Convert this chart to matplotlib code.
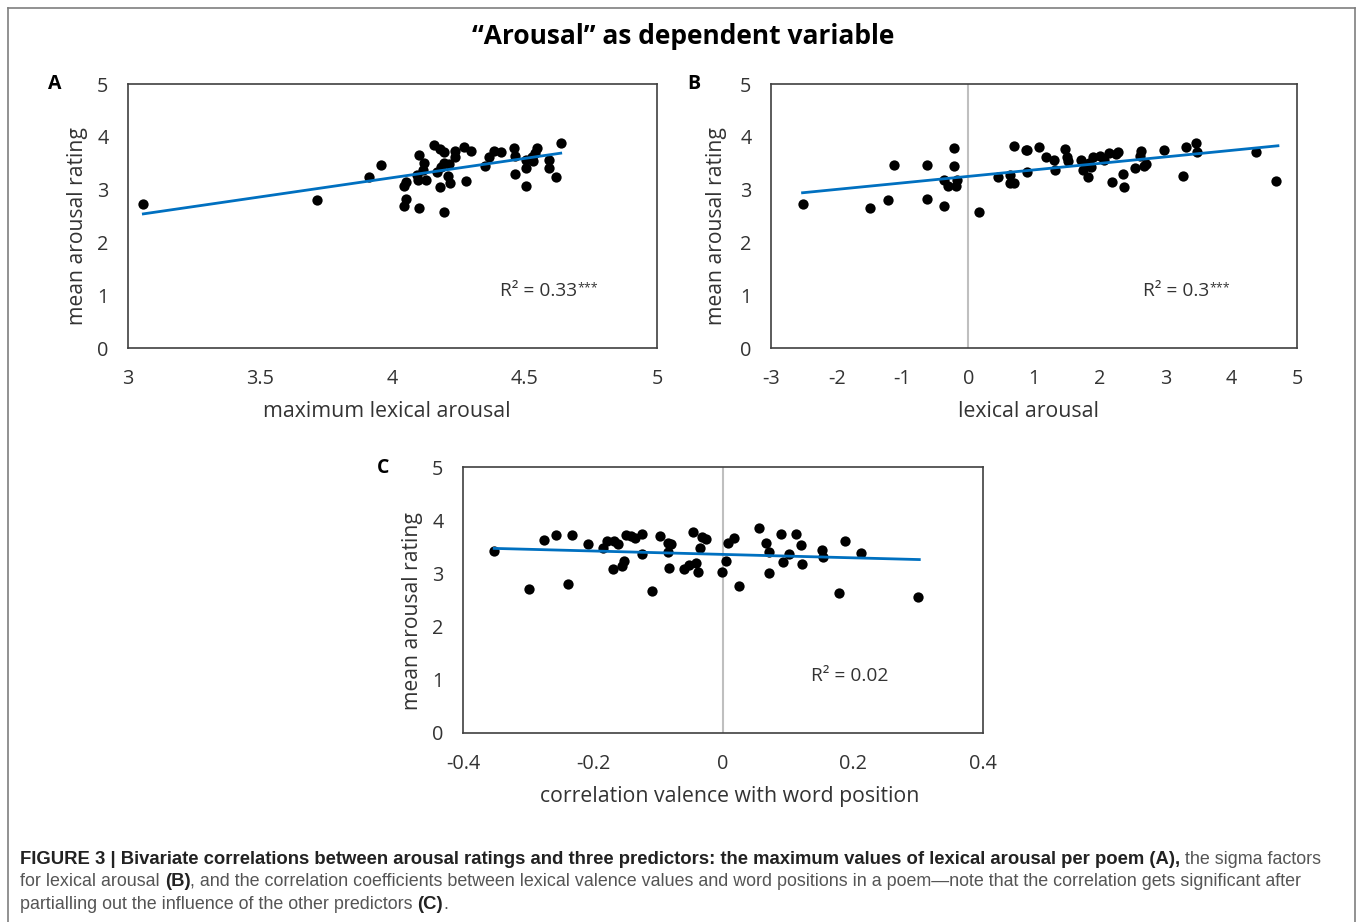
import matplotlib
matplotlib.use("Agg")
from matplotlib import pyplot as plt
from matplotlib.lines import Line2D

# panel A: maximum lexical arousal vs mean arousal rating
a_x = [3.058, 3.716, 3.955, 3.910, 4.101, 4.118, 4.115, 4.092, 4.097, 4.126,
       4.052, 4.045, 4.052, 4.045, 4.102, 4.194, 4.157, 4.178, 4.196, 4.235,
       4.235, 4.272, 4.295, 4.194, 4.213, 4.183, 4.167, 4.209, 4.216, 4.178,
       4.276, 4.350, 4.363, 4.385, 4.412, 4.460, 4.464, 4.463, 4.504, 4.506,
       4.504, 4.532, 4.538, 4.548, 4.529, 4.590, 4.590, 4.619, 4.636]
a_y = [2.73, 2.80, 3.47, 3.23, 3.65, 3.50, 3.38, 3.28, 3.19, 3.19,
       3.15, 3.07, 2.83, 2.69, 2.66, 2.58, 3.84, 3.76, 3.71, 3.74,
       3.62, 3.81, 3.74, 3.50, 3.48, 3.42, 3.34, 3.25, 3.13, 3.04,
       3.16, 3.45, 3.62, 3.73, 3.71, 3.78, 3.64, 3.30, 3.56, 3.41,
       3.06, 3.55, 3.70, 3.79, 3.62, 3.57, 3.41, 3.24, 3.89]
a_fit_x = [3.058, 4.636]
a_fit_y = [2.54, 3.69]

# panel B: lexical arousal (sigma factors)
b_x = [-2.52, -1.49, -1.22, -1.13, -0.63, -0.62, -0.37, -0.37, -0.31, -0.21,
       -0.21, -0.18, -0.17, 0.17, 0.45, 0.64, 0.63, 0.70, 0.70, 0.88,
       0.89, 0.90, 1.07, 1.19, 1.31, 1.32, 1.47, 1.50, 1.51, 1.71,
       1.75, 1.82, 1.84, 1.86, 1.90, 2.00, 2.06, 2.14, 2.19, 2.24,
       2.28, 2.36, 2.37, 2.54, 2.61, 2.63, 2.67, 2.71, 2.98, 3.26,
       3.31, 3.47, 3.48, 4.38, 4.68]
b_y = [2.72, 2.66, 2.80, 3.47, 3.47, 2.83, 2.69, 3.19, 3.07, 3.79,
       3.45, 3.07, 3.19, 2.58, 3.23, 3.28, 3.13, 3.12, 3.83, 3.75,
       3.34, 3.75, 3.81, 3.62, 3.57, 3.38, 3.76, 3.61, 3.54, 3.57,
       3.38, 3.23, 3.51, 3.43, 3.61, 3.64, 3.57, 3.70, 3.15, 3.67,
       3.72, 3.30, 3.04, 3.41, 3.64, 3.73, 3.45, 3.48, 3.75, 3.25,
       3.80, 3.89, 3.72, 3.71, 3.16]
b_fit_x = [-2.52, 4.71]
b_fit_y = [2.94, 3.83]

# panel C: correlation valence with word position
c_x = [-0.352, -0.298, -0.275, -0.257, -0.238, -0.233, -0.208, -0.184, -0.178, -0.170,
       -0.167, -0.162, -0.156, -0.152, -0.150, -0.142, -0.135, -0.125, -0.124, -0.110,
       -0.097, -0.085, -0.083, -0.084, -0.080, -0.060, -0.052, -0.046, -0.042, -0.038,
       -0.035, -0.033, -0.026, -0.002, 0.004, 0.007, 0.017, 0.024, 0.055, 0.066,
       0.070, 0.071, 0.089, 0.093, 0.102, 0.113, 0.120, 0.122, 0.153, 0.154,
       0.178, 0.187, 0.212, 0.300]
c_y = [3.43, 2.70, 3.63, 3.72, 2.80, 3.72, 3.55, 3.47, 3.60, 3.08,
       3.61, 3.55, 3.14, 3.24, 3.72, 3.70, 3.67, 3.36, 3.75, 2.67,
       3.71, 3.40, 3.11, 3.58, 3.55, 3.08, 3.16, 3.78, 3.20, 3.03,
       3.47, 3.69, 3.65, 3.03, 3.24, 3.58, 3.67, 2.77, 3.86, 3.58,
       3.01, 3.40, 3.75, 3.21, 3.36, 3.75, 3.53, 3.17, 3.44, 3.30,
       2.64, 3.61, 3.38, 2.55]
c_fit_x = [-0.352, 0.302]
c_fit_y = [3.47, 3.26]

W, H = 1358, 922
plt.rcParams["font.family"] = ["Open Sans", "DejaVu Sans"]
TXT = "#333333"

fig = plt.figure(figsize=(W / 100, H / 100), dpi=100)
fig.patch.set_facecolor("white")


def px_axes(x0, x1, y0, y1):
    # x0..x1, y0..y1 in image pixels (y from top)
    return fig.add_axes([x0 / W, 1 - y1 / H, (x1 - x0) / W, (y1 - y0) / H])


def panel(ax, x, y, fx, fy, xlim, xticks, xticklabels, xlabel, r2, stars,
          zero_line, ylab_x, r2_x):
    if zero_line:
        ax.axvline(0, color="#bfbfbf", lw=1.5, zorder=1)
    ax.scatter(x, y, s=55, color="black", zorder=3, linewidths=0)
    ax.plot(fx, fy, color="#0070c0", lw=2.0, zorder=4)
    ax.set_xlim(*xlim)
    ax.set_ylim(0, 5)
    ax.set_xticks(xticks)
    ax.set_xticklabels(xticklabels)
    ax.set_yticks([0, 1, 2, 3, 4, 5])
    ax.tick_params(length=0, labelsize=14.3, labelcolor=TXT)
    ax.tick_params(axis="y", pad=14)
    ax.tick_params(axis="x", pad=15)
    for s in ax.spines.values():
        s.set_color("#404040")
        s.set_linewidth(1.2)
    ax.set_ylabel("mean arousal rating", fontsize=15.2, color=TXT, va="center")
    ax.yaxis.set_label_coords(ylab_x, 0.46)
    ax.set_xlabel(xlabel, fontsize=15.3, color=TXT, va="center")
    ax.xaxis.set_label_coords(0.49, -0.24)
    t = ax.text(r2_x, 0.215, "R² = " + r2, transform=ax.transAxes, fontsize=13.8,
                color=TXT, ha="left", va="center")
    if stars:
        ax.annotate("***", xy=(1, 1), xycoords=t, fontsize=9, color=TXT,
                    ha="left", va="top", xytext=(0, 1), textcoords="offset points")


ax_a = px_axes(128, 657, 84, 348)
panel(ax_a, a_x, a_y, a_fit_x, a_fit_y, (3, 5), [3, 3.5, 4, 4.5, 5],
      ["3", "3.5", "4", "4.5", "5"], "maximum lexical arousal", "0.33", True,
      False, -0.096, 0.703)

ax_b = px_axes(771, 1297, 84, 348)
panel(ax_b, b_x, b_y, b_fit_x, b_fit_y, (-3, 5), list(range(-3, 6)),
      [str(v) for v in range(-3, 6)], "lexical arousal", "0.3", True,
      True, -0.103, 0.707)

ax_c = px_axes(463, 983, 467, 733)
panel(ax_c, c_x, c_y, c_fit_x, c_fit_y, (-0.4, 0.4), [-0.4, -0.2, 0, 0.2, 0.4],
      ["-0.4", "-0.2", "0", "0.2", "0.4"], "correlation valence with word position",
      "0.02", False, True, -0.098, 0.669)
ax_c.xaxis.set_label_coords(0.513, -0.24)

# title and panel letters
fig.text(683 / W, 1 - 37 / H, "\u201cArousal\u201d as dependent variable",
         fontsize=19, fontweight="bold", ha="center", va="center", color="black")
for letter, (lx, ly) in zip("ABC", [(55, 84), (694, 84), (383, 468)]):
    fig.text(lx / W, 1 - ly / H, letter, fontsize=14, fontweight="bold",
             ha="center", va="center", color="black")

# outer frame
for xs, ys in [([8, 8], [922, 8]), ([8, 1355], [8, 8]), ([1355, 1355], [8, 922])]:
    fig.add_artist(Line2D([v / W for v in xs], [1 - v / H for v in ys],
                          color="#7f7f7f", lw=1.2, transform=fig.transFigure))

# caption
CAP = ["Liberation Sans Narrow", "Liberation Sans", "DejaVu Sans"]
cap_lines = [
    [("FIGURE 3 | Bivariate correlations between arousal ratings and three predictors: "
      "the maximum values of lexical arousal per poem (A),", True),
     (" the sigma factors", False)],
    [("for lexical arousal ", False), ("(B)", True),
     (", and the correlation coefficients between lexical valence values and word "
      "positions in a poem\u2014note that the correlation gets significant after", False)],
    [("partialling out the influence of the other predictors ", False), ("(C)", True),
     (".", False)],
]
cap_base = [864, 886, 909]
for pieces, yb in zip(cap_lines, cap_base):
    prev = None
    for txt, bold in pieces:
        kw = dict(fontsize=13.35 if bold else 12.85, family=CAP,
                  fontweight="bold" if bold else "normal",
                  color="#222222" if bold else "#555555", va="baseline", ha="left")
        if prev is None:
            prev = fig.text(20 / W, 1 - yb / H, txt, **kw)
        else:
            prev = fig.add_artist(matplotlib.text.Annotation(
                txt, xy=(1, 1 - yb / H), xycoords=(prev, "figure fraction"), **kw))

fig.savefig("out.png", dpi=100)
